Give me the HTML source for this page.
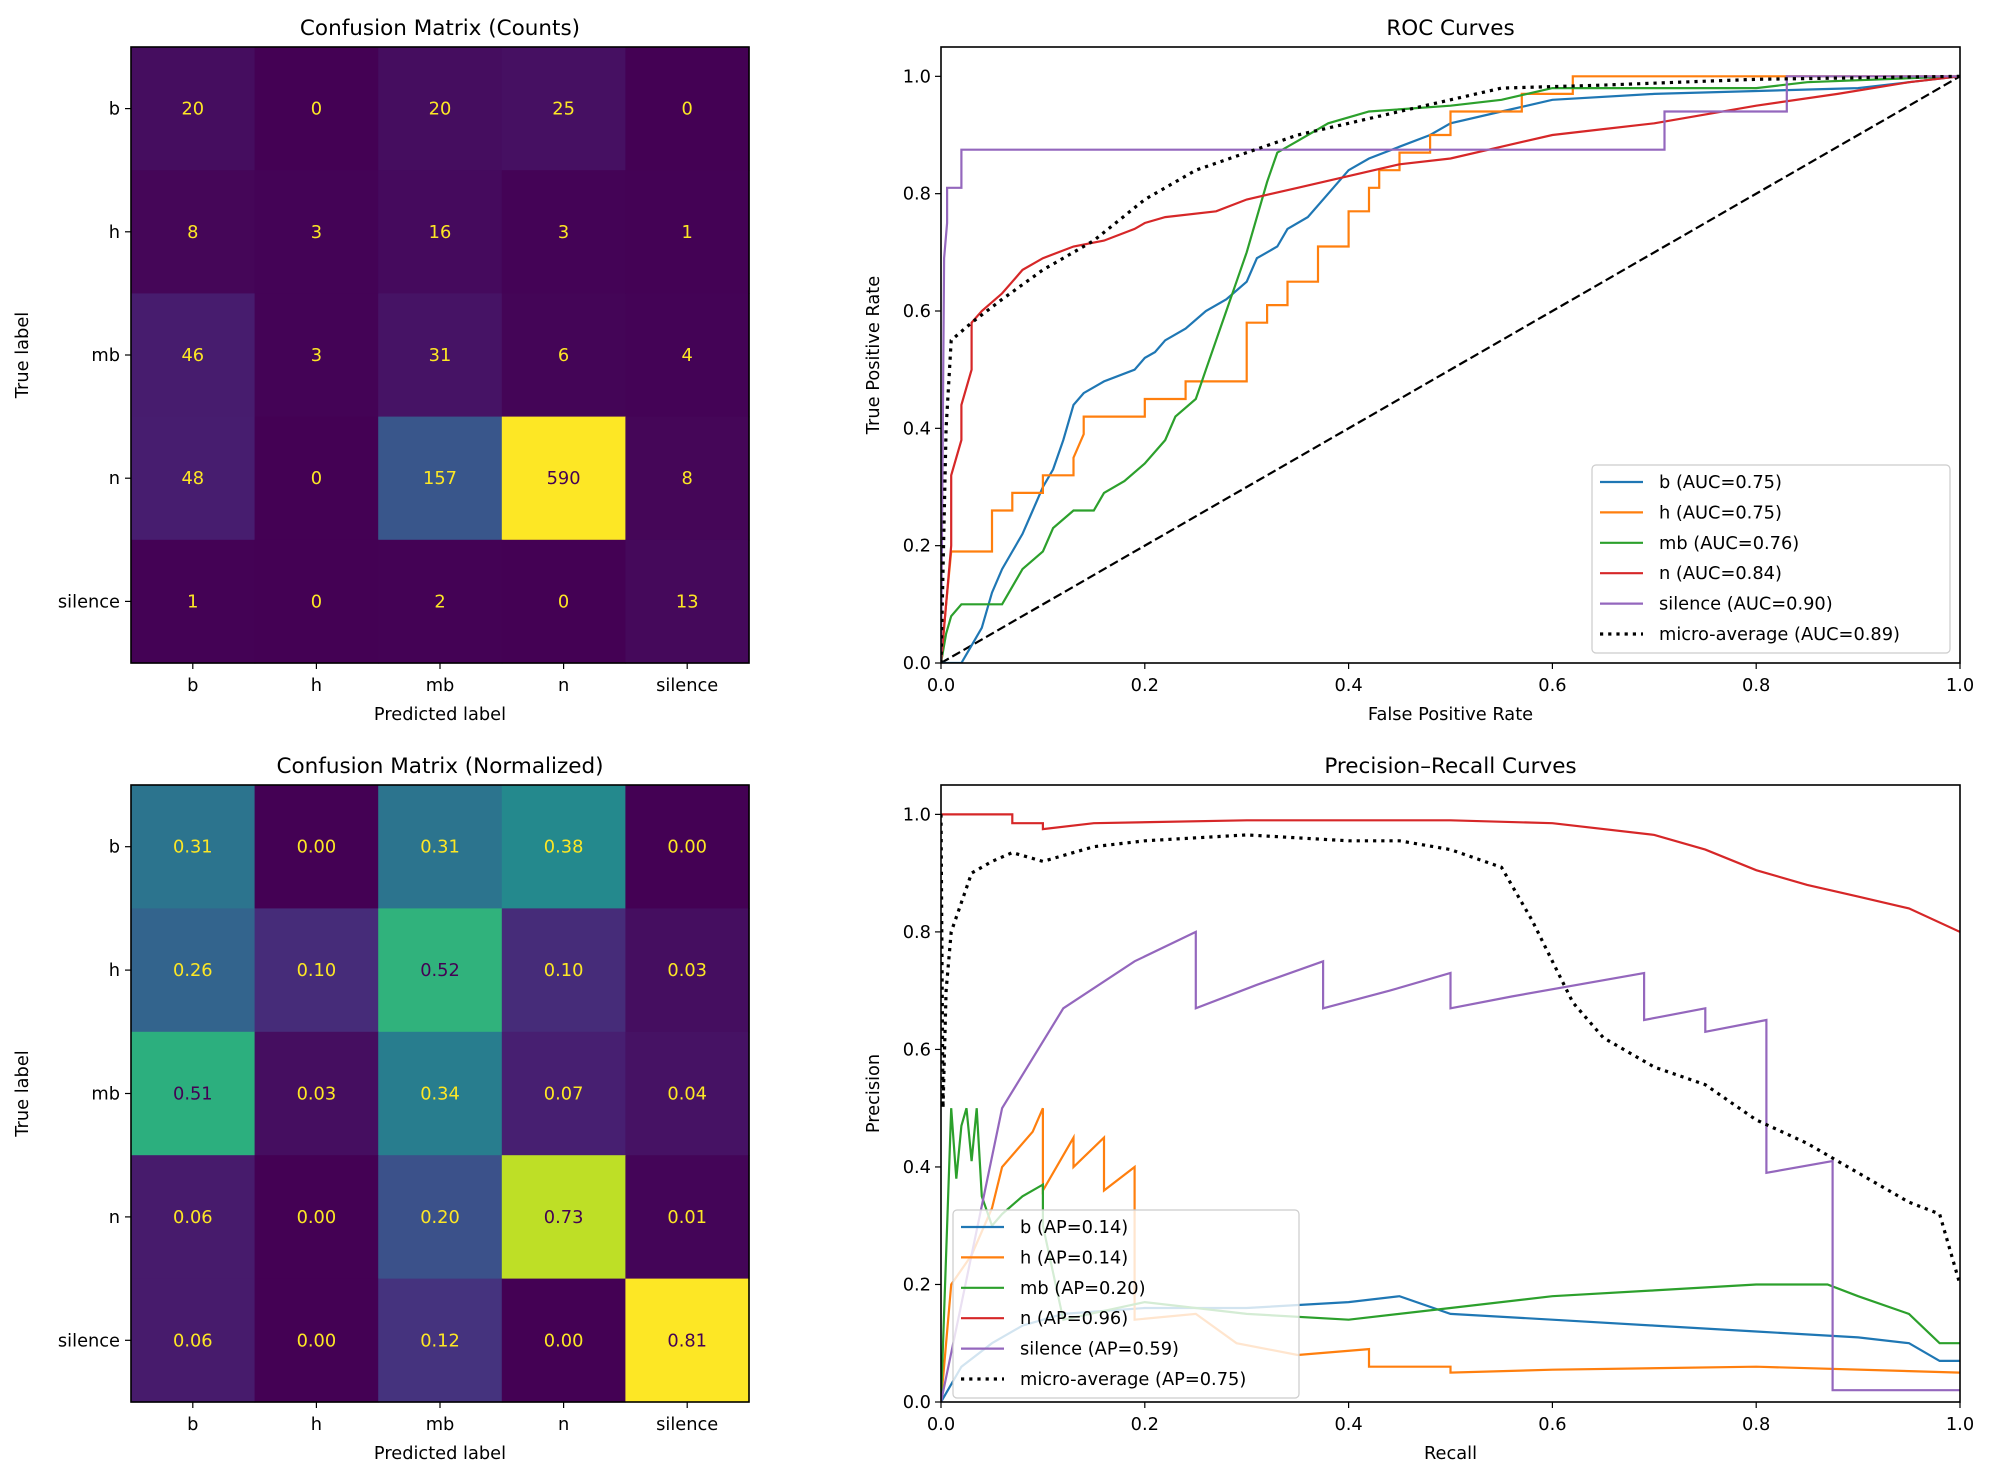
<!DOCTYPE html>
<html><head><meta charset="utf-8"><style>
html,body{margin:0;padding:0;background:#fff}
svg{display:block;font-family:"DejaVu Sans","Liberation Sans",sans-serif}
</style></head><body>
<svg id="fig" width="1991" height="1481" viewBox="0 0 1991 1481" xmlns="http://www.w3.org/2000/svg"></svg>
<script>
const classes = ["b","h","mb","n","silence"];
const countValues = [[20,0,20,25,0],[8,3,16,3,1],[46,3,31,6,4],[48,0,157,590,8],[1,0,2,0,13]];
const normValues = [[0.31,0.00,0.31,0.38,0.00],[0.26,0.10,0.52,0.10,0.03],[0.51,0.03,0.34,0.07,0.04],[0.06,0.00,0.20,0.73,0.01],[0.06,0.00,0.12,0.00,0.81]];
const rateTicks = [0,0.2,0.4,0.6,0.8,1.0];
const rateTickLabels = ["0.0","0.2","0.4","0.6","0.8","1.0"];
const rocB = [[0,0],[0.02,0],[0.03,0.03],[0.04,0.06],[0.05,0.12],[0.06,0.16],[0.07,0.19],[0.08,0.22],[0.09,0.26],[0.1,0.3],[0.11,0.33],[0.12,0.38],[0.13,0.44],[0.14,0.46],[0.16,0.48],[0.19,0.5],[0.2,0.52],[0.21,0.53],[0.22,0.55],[0.24,0.57],[0.26,0.6],[0.28,0.62],[0.3,0.65],[0.31,0.69],[0.33,0.71],[0.34,0.74],[0.36,0.76],[0.38,0.8],[0.4,0.84],[0.42,0.86],[0.45,0.88],[0.48,0.9],[0.5,0.92],[0.55,0.94],[0.6,0.96],[0.7,0.97],[0.9,0.98],[0.95,0.99],[1,1]];
const rocH = [[0,0],[0.005,0.1],[0.01,0.19],[0.05,0.19],[0.05,0.26],[0.07,0.26],[0.07,0.29],[0.1,0.29],[0.1,0.32],[0.13,0.32],[0.13,0.35],[0.14,0.39],[0.14,0.42],[0.2,0.42],[0.2,0.45],[0.24,0.45],[0.24,0.48],[0.3,0.48],[0.3,0.58],[0.32,0.58],[0.32,0.61],[0.34,0.61],[0.34,0.65],[0.37,0.65],[0.37,0.71],[0.4,0.71],[0.4,0.77],[0.42,0.77],[0.42,0.81],[0.43,0.81],[0.43,0.84],[0.45,0.84],[0.45,0.87],[0.48,0.87],[0.48,0.9],[0.5,0.9],[0.5,0.94],[0.57,0.94],[0.57,0.97],[0.62,0.97],[0.62,1.0],[1,1]];
const rocMB = [[0,0],[0.005,0.05],[0.01,0.08],[0.02,0.1],[0.06,0.1],[0.07,0.13],[0.08,0.16],[0.1,0.19],[0.11,0.23],[0.13,0.26],[0.15,0.26],[0.16,0.29],[0.18,0.31],[0.2,0.34],[0.22,0.38],[0.23,0.42],[0.25,0.45],[0.26,0.5],[0.27,0.55],[0.28,0.6],[0.29,0.65],[0.3,0.7],[0.31,0.76],[0.32,0.82],[0.33,0.87],[0.35,0.89],[0.38,0.92],[0.42,0.94],[0.5,0.95],[0.55,0.96],[0.6,0.98],[0.8,0.98],[0.85,0.99],[1,1]];
const rocN = [[0,0],[0.005,0.1],[0.01,0.2],[0.01,0.32],[0.02,0.38],[0.02,0.44],[0.03,0.5],[0.03,0.58],[0.04,0.6],[0.06,0.63],[0.07,0.65],[0.08,0.67],[0.1,0.69],[0.13,0.71],[0.16,0.72],[0.19,0.74],[0.2,0.75],[0.22,0.76],[0.27,0.77],[0.3,0.79],[0.35,0.81],[0.4,0.83],[0.45,0.85],[0.5,0.86],[0.55,0.88],[0.6,0.9],[0.65,0.91],[0.7,0.92],[0.8,0.95],[0.88,0.97],[0.95,0.99],[1,1]];
const rocSilence = [[0,0],[0.003,0.69],[0.006,0.75],[0.006,0.81],[0.02,0.81],[0.02,0.875],[0.71,0.875],[0.71,0.94],[0.83,0.94],[0.83,1],[1,1]];
const rocMicro = [[0,0],[0.005,0.4],[0.01,0.55],[0.03,0.58],[0.06,0.62],[0.1,0.67],[0.15,0.72],[0.2,0.79],[0.25,0.84],[0.3,0.87],[0.35,0.9],[0.4,0.92],[0.45,0.94],[0.5,0.96],[0.55,0.98],[0.65,0.985],[0.8,0.995],[1,1]];
const rocLabels = ["b (AUC=0.75)","h (AUC=0.75)","mb (AUC=0.76)","n (AUC=0.84)","silence (AUC=0.90)","micro-average (AUC=0.89)"];
const prB = [[0,0],[0.02,0.06],[0.05,0.1],[0.08,0.13],[0.12,0.15],[0.2,0.16],[0.3,0.16],[0.4,0.17],[0.45,0.18],[0.5,0.15],[0.6,0.14],[0.7,0.13],[0.8,0.12],[0.9,0.11],[0.95,0.1],[0.98,0.07],[1,0.07]];
const prH = [[0,0],[0.01,0.2],[0.03,0.25],[0.05,0.33],[0.06,0.4],[0.09,0.46],[0.1,0.5],[0.1,0.36],[0.13,0.45],[0.13,0.4],[0.16,0.45],[0.16,0.36],[0.19,0.4],[0.19,0.14],[0.25,0.15],[0.29,0.1],[0.35,0.08],[0.42,0.09],[0.42,0.06],[0.5,0.06],[0.5,0.05],[0.6,0.055],[0.8,0.06],[1,0.05]];
const prMB = [[0,0],[0.01,0.5],[0.015,0.38],[0.02,0.47],[0.025,0.5],[0.03,0.41],[0.035,0.5],[0.04,0.35],[0.05,0.3],[0.06,0.32],[0.08,0.35],[0.1,0.37],[0.1,0.3],[0.12,0.14],[0.2,0.17],[0.3,0.15],[0.4,0.14],[0.5,0.16],[0.6,0.18],[0.7,0.19],[0.8,0.2],[0.87,0.2],[0.9,0.18],[0.95,0.15],[0.98,0.1],[1,0.1]];
const prN = [[0,1],[0.07,1],[0.07,0.985],[0.1,0.985],[0.1,0.975],[0.15,0.985],[0.3,0.99],[0.5,0.99],[0.6,0.985],[0.7,0.965],[0.75,0.94],[0.8,0.905],[0.85,0.88],[0.9,0.86],[0.95,0.84],[1,0.8]];
const prSilence = [[0,0],[0.06,0.5],[0.12,0.67],[0.19,0.75],[0.25,0.8],[0.25,0.67],[0.31,0.71],[0.375,0.75],[0.375,0.67],[0.44,0.7],[0.5,0.73],[0.5,0.67],[0.56,0.69],[0.69,0.73],[0.69,0.65],[0.75,0.67],[0.75,0.63],[0.81,0.65],[0.81,0.39],[0.875,0.41],[0.875,0.02],[1,0.02]];
const prMicro = [[0,1],[0.002,0.5],[0.005,0.7],[0.01,0.8],[0.02,0.85],[0.03,0.9],[0.05,0.92],[0.07,0.935],[0.1,0.92],[0.15,0.945],[0.2,0.955],[0.3,0.965],[0.4,0.955],[0.45,0.955],[0.5,0.94],[0.55,0.91],[0.56,0.88],[0.58,0.82],[0.6,0.75],[0.62,0.68],[0.65,0.62],[0.7,0.57],[0.75,0.54],[0.8,0.48],[0.85,0.44],[0.88,0.41],[0.92,0.37],[0.95,0.34],[0.98,0.32],[1,0.2]];
const prLabels = ["b (AP=0.14)","h (AP=0.14)","mb (AP=0.20)","n (AP=0.96)","silence (AP=0.59)","micro-average (AP=0.75)"];

const seriesColors = ["#1f77b4","#ff7f0e","#2ca02c","#d62728","#9467bd","#000000"];
const FS = 17.8, TFS = 21.5;
const NS = "http://www.w3.org/2000/svg";
const svg = document.getElementById("fig");
function mk(tag, attrs, parent, text){
  const e = document.createElementNS(NS, tag);
  for (const k in attrs) e.setAttribute(k, attrs[k]);
  if (text !== undefined) e.textContent = text;
  (parent || svg).appendChild(e);
  return e;
}
const vir = ["#440154","#482475","#414487","#355f8d","#2a788e","#21918c","#22a884","#44bf70","#7ad151","#bddf26","#fde725"];
function hex(c){return [parseInt(c.slice(1,3),16),parseInt(c.slice(3,5),16),parseInt(c.slice(5,7),16)];}
function viridis(t){
  t = Math.max(0, Math.min(1, t));
  const p = t*10, i = Math.min(9, Math.floor(p)), f = p - i;
  const a = hex(vir[i]), b = hex(vir[i+1]);
  return "rgb(" + a.map((v,k)=>Math.round(v+(b[k]-v)*f)).join(",") + ")";
}

function matrix(name, vals, fmt, x0, y0, x1, y1, title){
  const g = mk("g", {});
  
  
  let mx = 0, mn = Infinity;
  vals.forEach(r=>r.forEach(v=>{mx=Math.max(mx,v);mn=Math.min(mn,v);}));
  const cw = (x1-x0)/5, ch = (y1-y0)/5;
  vals.forEach((row,i)=>row.forEach((v,j)=>{
    const r = mk("rect",{x:x0+j*cw,y:y0+i*ch,width:cw+0.6,height:ch+0.6,fill:viridis((v-mn)/(mx-mn))},g);
    
    
    const t = mk("text",{x:x0+(j+0.5)*cw,y:y0+(i+0.5)*ch+6,"text-anchor":"middle","font-size":FS,fill:(v>(mx+mn)/2)?"#440154":"#fde725"},g,fmt(v));
    
    
  }));
  mk("rect",{x:x0,y:y0,width:x1-x0,height:y1-y0,fill:"none",stroke:"#000","stroke-width":1.6},g);
  classes.forEach((c,k)=>{
    const cx = x0+(k+0.5)*cw, cy = y0+(k+0.5)*ch;
    mk("line",{x1:cx,y1:y1,x2:cx,y2:y1+6,stroke:"#000","stroke-width":1.2},g);
    const tx = mk("text",{x:cx,y:y1+28,"text-anchor":"middle","font-size":FS},g,c);
    
    
    mk("line",{x1:x0,y1:cy,x2:x0-6,y2:cy,stroke:"#000","stroke-width":1.2},g);
    const ty = mk("text",{x:x0-11,y:cy+6,"text-anchor":"end","font-size":FS},g,c);
    
    
  });
  const xl = mk("text",{x:(x0+x1)/2,y:y1+57,"text-anchor":"middle","font-size":FS},g,"Predicted label");
  
  
  const yl = mk("text",{x:0,y:0,"text-anchor":"middle","font-size":FS,transform:"translate(28,"+((y0+y1)/2)+") rotate(-90)"},g,"True label");
  
  
  const tt = mk("text",{x:(x0+x1)/2,y:y0-12,"text-anchor":"middle","font-size":TFS},g,title);
  
  
}
matrix("confusion-matrix-counts", countValues, v=>String(v), 131, 47, 749, 663, "Confusion Matrix (Counts)");
matrix("confusion-matrix-normalized", normValues, v=>v.toFixed(2), 131, 785, 749, 1402, "Confusion Matrix (Normalized)");

function curves(name, x0, y0, x1, y1, series, labels, xlabel, ylabel, title, lg, legendAlpha){
  const g = mk("g", {});
  
  
  const sx = v => x0 + v*(x1-x0);
  const sy = v => y1 - v/1.05*(y1-y0);
  const clipId = name+"-clip";
  const defs = mk("defs",{},g);
  const cp = mk("clipPath",{id:clipId},defs);
  mk("rect",{x:x0,y:y0,width:x1-x0,height:y1-y0},cp);
  const pg = mk("g",{"clip-path":"url(#"+clipId+")"},g);
  if (name==="roc-chart"){
    const d = mk("line",{x1:sx(0),y1:sy(0),x2:sx(1),y2:sy(1),stroke:"#000","stroke-width":2.2,"stroke-dasharray":"9,4"},pg);
    
    
  }
  series.forEach((s,k)=>{
    const dstr = s.map((p,i)=>(i?"L":"M")+sx(p[0]).toFixed(1)+","+sy(p[1]).toFixed(1)).join(" ");
    const attrs = {d:dstr,fill:"none",stroke:seriesColors[k],"stroke-width":k===5?3.2:2.2,"stroke-linejoin":"miter"};
    if (k===5) attrs["stroke-dasharray"]="3.2,5";
    const p = mk("path",attrs,pg);
    
    
  });
  mk("rect",{x:x0,y:y0,width:x1-x0,height:y1-y0,fill:"none",stroke:"#000","stroke-width":1.6},g);
  rateTicks.forEach((t,k)=>{
    mk("line",{x1:sx(t),y1:y1,x2:sx(t),y2:y1+6,stroke:"#000","stroke-width":1.2},g);
    const tx = mk("text",{x:sx(t),y:y1+28,"text-anchor":"middle","font-size":FS},g,rateTickLabels[k]);
    
    
    mk("line",{x1:x0,y1:sy(t),x2:x0-6,y2:sy(t),stroke:"#000","stroke-width":1.2},g);
    const ty = mk("text",{x:x0-10,y:sy(t)+6,"text-anchor":"end","font-size":FS},g,rateTickLabels[k]);
    
    
  });
  const xl = mk("text",{x:(x0+x1)/2,y:y1+57,"text-anchor":"middle","font-size":FS},g,xlabel);
  
  
  const yl = mk("text",{x:0,y:0,"text-anchor":"middle","font-size":FS,transform:"translate("+(x0-62)+","+((y0+y1)/2)+") rotate(-90)"},g,ylabel);
  
  
  const tt = mk("text",{x:(x0+x1)/2,y:y0-12,"text-anchor":"middle","font-size":TFS},g,title);
  
  
  const lgG = mk("g",{},g);
  
  
  mk("rect",{x:lg[0],y:lg[1],width:lg[2],height:lg[3],rx:4,fill:"#fff","fill-opacity":legendAlpha,stroke:"#ccc","stroke-width":1.2},lgG);
  labels.forEach((l,k)=>{
    const cy = lg[1]+17+k*30.4;
    const la = {x1:lg[0]+8,y1:cy,x2:lg[0]+51,y2:cy,stroke:seriesColors[k],"stroke-width":k===5?3.2:2.2};
    if (k===5) la["stroke-dasharray"]="3.2,5";
    mk("line",la,lgG);
    const t = mk("text",{x:lg[0]+67,y:cy+6,"font-size":FS},lgG,l);
    
    
  });
}
curves("roc-chart", 941, 47, 1960, 663, [rocB,rocH,rocMB,rocN,rocSilence,rocMicro], rocLabels, "False Positive Rate", "True Positive Rate", "ROC Curves", [1592,465,358,188], 0.8);
curves("pr-chart", 941, 785, 1960, 1402, [prB,prH,prMB,prN,prSilence,prMicro], prLabels, "Recall", "Precision", "Precision\u2013Recall Curves", [953,1210,346,188], 0.8);
</script>
</body></html>
